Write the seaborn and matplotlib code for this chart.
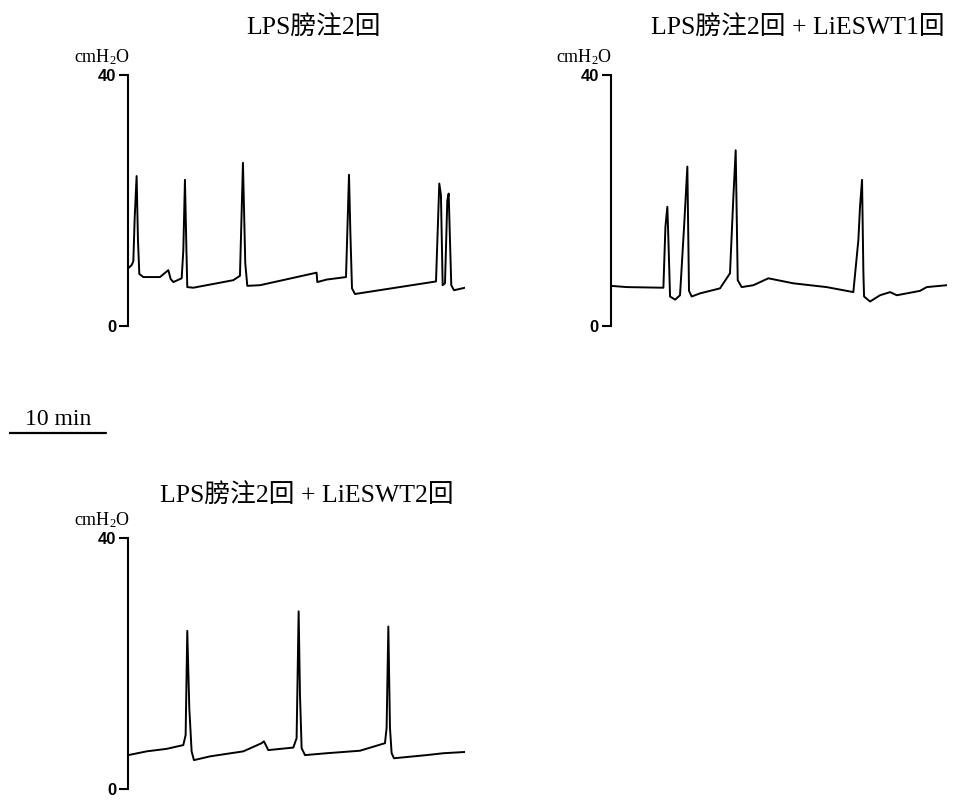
import matplotlib
matplotlib.use('Agg')
import matplotlib.pyplot as plt
import seaborn as sns

# bladder pressure traces (time in min, pressure in cmH2O)
t1 = [0.0, 0.34, 0.52, 0.66, 0.86, 1.00, 1.14, 1.55, 3.28, 4.14, 4.38, 4.66, 5.52, 5.69,
      5.86, 6.00, 6.10, 6.72, 10.86, 11.55, 11.86, 12.10, 12.31, 13.62, 19.48, 19.55,
      20.52, 22.52, 22.83, 22.97, 23.14, 23.45, 31.83, 32.17, 32.34, 32.52, 32.76,
      33.00, 33.14, 33.41, 33.69, 34.83]
p1 = [9.2, 9.7, 10.3, 17.2, 23.9, 13.7, 8.3, 7.8, 7.8, 8.9, 7.5, 7.0, 7.6, 12.0,
      23.3, 13.0, 6.2, 6.1, 7.3, 8.0, 26.0, 10.0, 6.4, 6.5, 8.5, 7.0,
      7.4, 7.8, 24.1, 15.0, 6.0, 5.1, 7.1, 22.7, 20.9, 6.5, 6.8,
      20.0, 21.1, 6.5, 5.7, 6.1]

t2 = [0.0, 1.66, 5.45, 5.66, 5.86, 5.97, 6.14, 6.66, 7.17, 7.59, 7.93, 8.10, 8.38,
      9.24, 11.31, 12.34, 12.69, 12.93, 13.14, 13.55, 14.76, 16.31, 18.90, 22.34,
      25.10, 25.62, 25.79, 26.00, 26.14, 26.21, 26.83, 27.86, 28.90, 29.59, 32.00,
      32.69, 34.76]
p2 = [6.4, 6.2, 6.1, 15.8, 19.0, 13.7, 4.7, 4.2, 4.9, 15.8, 25.4, 5.6, 4.7,
      5.2, 6.0, 8.4, 20.6, 28.0, 7.3, 6.2, 6.5, 7.6, 6.8, 6.2,
      5.4, 13.7, 19.0, 23.3, 8.4, 4.7, 3.9, 4.9, 5.4, 4.9, 5.6,
      6.2, 6.5]

t3 = [0.0, 1.90, 3.97, 5.69, 5.93, 6.10, 6.31, 6.55, 6.79, 8.45, 11.90, 13.79, 14.03,
      14.48, 17.07, 17.41, 17.62, 17.76, 17.93, 18.28, 20.52, 23.97, 26.55, 26.72,
      26.90, 27.07, 27.24, 27.48, 30.86, 32.59, 34.83]
p3 = [5.4, 6.0, 6.4, 7.0, 8.6, 25.2, 12.9, 6.0, 4.6, 5.2, 6.0, 7.3, 7.6,
      6.2, 6.6, 8.1, 28.3, 15.0, 6.5, 5.4, 5.7, 6.1, 7.3, 9.7,
      25.9, 9.7, 5.7, 4.9, 5.4, 5.7, 5.9]

titles = ['LPS膀注2回', 'LPS膀注2回 + LiESWT1回', 'LPS膀注2回 + LiESWT2回']
y_ticks = [0, 40]
scale_bar = [0, 10]
scale_label = '10 min'
unit_label = r'cmH$_\mathrm{2}$O'

sns.set_style('white')
plt.rcParams['font.family'] = ['Liberation Serif', 'Noto Sans CJK SC', 'DejaVu Sans']
plt.rcParams['mathtext.fontset'] = 'custom'
plt.rcParams['mathtext.rm'] = 'Liberation Serif'
plt.rcParams['mathtext.it'] = 'Liberation Serif:italic'
plt.rcParams['text.color'] = 'black'
plt.rcParams['ytick.color'] = 'black'

W, H = 955, 800
fig = plt.figure(figsize=(W / 100, H / 100), dpi=100)

t_max = 34.83
ax_w = 336.7 / W
ax_h = 251 / H

# (left px, bottom px of y=0, title center x, title center y)
panels = [
    (128.3, 326, 314, 28, t1, p1),
    (610.7, 326, 798, 28, t2, p2),
    (128.3, 789, 307, 496, t3, p3),
]

for (lx, by, tx, ty, t, p), title in zip(panels, titles):
    ax = fig.add_axes([lx / W, (H - by) / H, ax_w, ax_h])
    sns.lineplot(x=t, y=p, ax=ax, color='black', linewidth=1.4,
                 estimator=None, sort=False)
    ax.set_xlim(0, t_max)
    ax.set_ylim(0, 40)
    ax.set_yticks(y_ticks)
    ax.set_yticklabels([str(v) for v in y_ticks], fontweight='bold',
                       fontsize=12, family='Liberation Sans')
    ax.set_xticks([])
    ax.tick_params(axis='y', direction='out', length=6.5, width=1.5, pad=2,
                   left=True)
    for s in ['top', 'right', 'bottom']:
        ax.spines[s].set_visible(False)
    ax.spines['left'].set_linewidth(1.5)
    ax.spines['left'].set_color('black')
    ax.set_xlabel('')
    ax.set_ylabel('')
    ax.annotate(unit_label, xy=(0, 1), xycoords='axes fraction',
                xytext=(1, 9), textcoords='offset points',
                ha='right', va='baseline', fontsize=13)
    fig.text(tx / W, (H - ty) / H, title, ha='center', va='center', fontsize=18.5)

# 10 min scale bar, on the same time scale as the traces
sax = fig.add_axes([9.3 / W, (H - 433) / H - 0.025, ax_w, 0.05])
sns.lineplot(x=scale_bar, y=[0, 0], ax=sax, color='black', linewidth=1.6,
             estimator=None, sort=False)
sax.set_xlim(0, t_max)
sax.set_ylim(-1, 1)
sax.axis('off')
sax.annotate(scale_label, xy=(sum(scale_bar) / 2, 0), xycoords='data',
             xytext=(0, 6), textcoords='offset points',
             ha='center', va='baseline', fontsize=17)

fig.savefig('out.png', dpi=100)
